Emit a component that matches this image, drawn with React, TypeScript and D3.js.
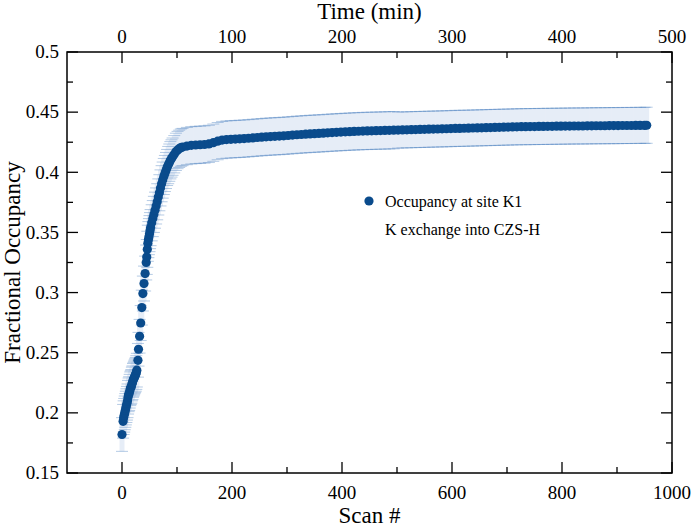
import React from "react";
import * as d3 from "d3";

const scans = [
  0, 2, 3, 4, 5, 6, 7, 8, 9, 10, 11, 12, 13, 14, 15, 16, 17, 18, 19, 20, 21, 22, 23, 24, 25, 26,
  27, 29, 30, 32, 34, 36, 38, 40, 42, 44, 45,
  46, 47, 48, 49, 50, 51, 52, 54, 56, 58, 60, 62, 64, 66, 68, 70, 72, 74, 76, 78, 80, 82, 84, 86, 88, 90, 92, 95, 98, 101, 104, 107,
  110, 118, 126, 134, 142, 150, 158, 166, 174, 182, 190, 198, 206, 214, 222, 230, 238, 246, 254, 262, 270, 278, 286, 294,
  302, 310, 318, 326, 334, 342, 350, 358, 366, 374, 382, 390, 398, 406, 414, 422, 430, 438, 446, 454, 462, 470, 478, 486, 494,
  502, 510, 518, 526, 534, 542, 550, 558, 566, 574, 582, 590, 598, 606, 614, 622, 630, 638, 646, 654, 662, 670, 678, 686, 694,
  702, 710, 718, 726, 734, 742, 750, 758, 766, 774, 782, 790, 798, 806, 814, 822, 830, 838, 846, 854, 862, 870, 878, 886, 894,
  902, 910, 918, 926, 934, 942, 950, 954,
];

const occupancy = [
  0.182, 0.193, 0.196, 0.198, 0.2, 0.202, 0.204, 0.206, 0.208, 0.21, 0.213, 0.215, 0.216, 0.218, 0.22, 0.221, 0.222, 0.224, 0.225, 0.227, 0.228, 0.229, 0.23, 0.231, 0.232, 0.2335,
  0.2355, 0.2437, 0.2529, 0.2637, 0.2747, 0.2875, 0.2992, 0.3075, 0.3158, 0.325, 0.3296,
  0.336, 0.341, 0.344, 0.3465, 0.349, 0.3515, 0.354, 0.358, 0.3615, 0.365, 0.3685, 0.372, 0.3755, 0.3795, 0.383, 0.387, 0.3905, 0.3935, 0.3965, 0.399, 0.4015, 0.404, 0.406, 0.408, 0.41, 0.4115, 0.413, 0.415, 0.417, 0.4185, 0.4195, 0.4205,
  0.421, 0.4218, 0.4224, 0.4227, 0.4229, 0.4231, 0.4236, 0.4246, 0.4259, 0.4268, 0.4272, 0.4274, 0.4276, 0.4278, 0.428, 0.4283, 0.4286, 0.4289, 0.4292, 0.4295, 0.4297, 0.4299, 0.4301, 0.4303,
  0.4306, 0.4309, 0.4312, 0.4314, 0.4317, 0.4319, 0.4321, 0.4323, 0.4325, 0.4328, 0.433, 0.4332, 0.4334, 0.4336, 0.4338, 0.434, 0.4341, 0.4343, 0.4344, 0.4345, 0.4346, 0.4347, 0.4348, 0.4349, 0.435,
  0.4351, 0.4352, 0.4353, 0.4354, 0.4355, 0.4356, 0.4357, 0.4358, 0.4359, 0.436, 0.4361, 0.4362, 0.4363, 0.4365, 0.4365, 0.4366, 0.4367, 0.4368, 0.4369, 0.437, 0.4371, 0.4372, 0.4373, 0.4374, 0.4375,
  0.4376, 0.4377, 0.4378, 0.4379, 0.4379, 0.438, 0.438, 0.4381, 0.4381, 0.4382, 0.4382, 0.4383, 0.4383, 0.4384, 0.4384, 0.4385, 0.4385, 0.4385, 0.4386, 0.4386, 0.4387, 0.4387, 0.4387, 0.4388, 0.4388,
  0.4388, 0.4389, 0.4389, 0.4389, 0.439, 0.439, 0.439, 0.4391,
];

const errors = [
  0.014, 0.014, 0.014, 0.014, 0.014, 0.014, 0.014, 0.014, 0.014, 0.014, 0.014, 0.014, 0.014, 0.014, 0.014, 0.014, 0.014, 0.014, 0.014, 0.014, 0.014, 0.014, 0.014, 0.014, 0.014, 0.014,
  0.014, 0.014, 0.014, 0.014, 0.0145, 0.0145, 0.0145, 0.0145, 0.0145, 0.0145, 0.0145,
  0.015, 0.015, 0.015, 0.015, 0.015, 0.015, 0.015, 0.015, 0.015, 0.015, 0.015, 0.015, 0.015, 0.015, 0.015, 0.015, 0.015, 0.015, 0.015, 0.015, 0.015, 0.015, 0.0155, 0.0155, 0.0155, 0.0155, 0.0155, 0.0155, 0.0155, 0.0155, 0.0155, 0.0155,
  0.0155, 0.0155, 0.0155, 0.0155, 0.0155, 0.0155, 0.0155, 0.0155, 0.0155, 0.0155, 0.0155, 0.0155, 0.0155, 0.0155, 0.0155, 0.0155, 0.0155, 0.0155, 0.0155, 0.0155, 0.0155, 0.0155, 0.0155, 0.0155,
  0.0155, 0.0155, 0.0155, 0.0155, 0.0155, 0.0155, 0.0155, 0.0155, 0.0155, 0.0155, 0.0155, 0.0155, 0.0155, 0.0155, 0.0155, 0.0155, 0.0155, 0.0155, 0.0155, 0.0155, 0.0155, 0.0155, 0.0155, 0.0155, 0.0155,
  0.015, 0.015, 0.015, 0.015, 0.015, 0.015, 0.015, 0.015, 0.015, 0.015, 0.015, 0.015, 0.015, 0.015, 0.015, 0.015, 0.015, 0.015, 0.015, 0.015, 0.015, 0.015, 0.015, 0.015, 0.015,
  0.015, 0.015, 0.015, 0.015, 0.015, 0.015, 0.015, 0.015, 0.015, 0.015, 0.015, 0.015, 0.015, 0.015, 0.015, 0.015, 0.015, 0.015, 0.015, 0.015, 0.015, 0.015, 0.015, 0.015, 0.015,
  0.015, 0.015, 0.015, 0.015, 0.015, 0.015, 0.015, 0.015,
];

const yTicks = [0.15, 0.2, 0.25, 0.3, 0.35, 0.4, 0.45, 0.5];
const yMinorTicks = [0.175, 0.225, 0.275, 0.325, 0.375, 0.425, 0.475];
const scanTicks = [0, 200, 400, 600, 800, 1000];
const scanMinorTicks = [100, 300, 500, 700, 900];
const timeTicks = [0, 100, 200, 300, 400, 500];
const timeMinorTicks = [50, 150, 250, 350, 450];

const legendLabels = ["Occupancy at site K1", "K exchange into CZS-H"];

const W = 692;
const H = 527;
const M = { left: 67, right: 672, top: 52, bottom: 473 };
const FONT = "'Liberation Serif', 'Times New Roman', serif";
const DOT = "#0a4b8c";

export default function App() {
  const x = d3.scaleLinear().domain([-100, 1000]).range([M.left, M.right]);
  const xt = d3.scaleLinear().domain([-50, 500]).range([M.left, M.right]);
  const y = d3.scaleLinear().domain([0.15, 0.5]).range([M.bottom, M.top]);

  const pts = scans.map((s, i) => ({ s, v: occupancy[i], e: errors[i] }));
  const fmt = (v: number) => d3.format("~g")(v);

  const major = 11;
  const minor = 6;

  return (
    <svg width={W} height={H} style={{ position: "absolute", left: 0, top: 0, background: "#fff" }} fontFamily={FONT}>
      <rect x={0} y={0} width={W} height={H} fill="#fff" />
      {/* error bar stems */}
      <g>
        {pts.map((p, i) => (
          <line key={"st" + i} x1={x(p.s)} x2={x(p.s)} y1={y(p.v - p.e)} y2={y(p.v + p.e)} stroke="#e6edf7" strokeWidth={5} />
        ))}
      </g>
      {/* caps */}
      <g stroke="#4f82c0" strokeOpacity={0.42} strokeWidth={1}>
        {pts.map((p, i) => (
          <g key={"cp" + i}>
            <line x1={x(p.s) - 6} x2={x(p.s) + 6} y1={y(p.v + p.e)} y2={y(p.v + p.e)} />
            <line x1={x(p.s) - 6} x2={x(p.s) + 6} y1={y(p.v - p.e)} y2={y(p.v - p.e)} />
          </g>
        ))}
      </g>
      {/* dots */}
      <g fill={DOT}>
        {pts.map((p, i) => (
          <circle key={"d" + i} cx={x(p.s)} cy={y(p.v)} r={4.6} />
        ))}
      </g>

      {/* frame */}
      <rect x={M.left} y={M.top} width={M.right - M.left} height={M.bottom - M.top} fill="none" stroke="#000" strokeWidth={1.5} />

      {/* ticks */}
      <g stroke="#000" strokeWidth={1.3}>
        {yTicks.map((t) => (
          <g key={"yt" + t}>
            <line x1={M.left} x2={M.left + major} y1={y(t)} y2={y(t)} />
            <line x1={M.right} x2={M.right - major} y1={y(t)} y2={y(t)} />
          </g>
        ))}
        {yMinorTicks.map((t) => (
          <g key={"ym" + t}>
            <line x1={M.left} x2={M.left + minor} y1={y(t)} y2={y(t)} />
            <line x1={M.right} x2={M.right - minor} y1={y(t)} y2={y(t)} />
          </g>
        ))}
        {scanTicks.map((t) => (
          <line key={"xt" + t} x1={x(t)} x2={x(t)} y1={M.bottom} y2={M.bottom - major} />
        ))}
        {scanMinorTicks.map((t) => (
          <line key={"xm" + t} x1={x(t)} x2={x(t)} y1={M.bottom} y2={M.bottom - minor} />
        ))}
        {timeTicks.map((t) => (
          <line key={"tt" + t} x1={xt(t)} x2={xt(t)} y1={M.top} y2={M.top + major} />
        ))}
        {timeMinorTicks.map((t) => (
          <line key={"tm" + t} x1={xt(t)} x2={xt(t)} y1={M.top} y2={M.top + minor} />
        ))}
      </g>

      {/* tick labels */}
      <g fontSize={19} fill="#000">
        {yTicks.map((t) => (
          <text key={"yl" + t} x={M.left - 8} y={y(t)} dy="0.33em" textAnchor="end">
            {fmt(t)}
          </text>
        ))}
        {scanTicks.map((t) => (
          <text key={"xl" + t} x={x(t)} y={M.bottom + 26} textAnchor="middle">
            {fmt(t)}
          </text>
        ))}
        {timeTicks.map((t) => (
          <text key={"tl" + t} x={xt(t)} y={M.top - 9} textAnchor="middle">
            {fmt(t)}
          </text>
        ))}
      </g>

      {/* axis titles */}
      <g fontSize={23} fill="#000">
        <text x={(M.left + M.right) / 2} y={523} textAnchor="middle">Scan #</text>
        <text x={(M.left + M.right) / 2} y={19} textAnchor="middle">Time (min)</text>
        <text transform={`translate(20, ${(M.top + M.bottom) / 2}) rotate(-90)`} textAnchor="middle">
          Fractional Occupancy
        </text>
      </g>

      {/* legend */}
      <g fontSize={16} fill="#000">
        <circle cx={369} cy={201} r={4.6} fill={DOT} />
        <text x={385} y={207}>{legendLabels[0]}</text>
        <text x={385} y={235}>{legendLabels[1]}</text>
      </g>
    </svg>
  );
}
